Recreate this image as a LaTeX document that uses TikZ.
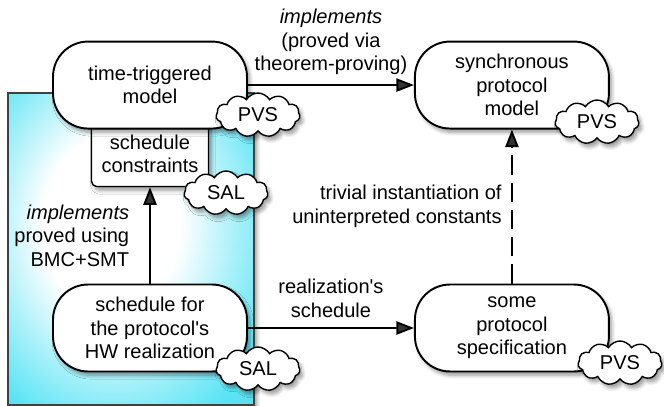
\documentclass[tikz,border=0pt]{standalone}
\usepackage{fontspec}
\setmainfont{Liberation Sans}
\usetikzlibrary{shapes.symbols,shadows.blur,arrows.meta}
\definecolor{glowB}{RGB}{90,228,245}
\definecolor{glowC}{RGB}{105,200,215}
\definecolor{glowD}{RGB}{150,162,168}
\pgfdeclareradialshading{glow}{\pgfpoint{-5bp}{5bp}}{color(0bp)=(white); color(14bp)=(white); color(34bp)=(glowB); color(52bp)=(glowC); color(72bp)=(glowD)}
\begin{document}
\begin{tikzpicture}[x=0.02cm, y=-0.02cm, node distance=7.24cm,
		every node/.style={font=\fontsize{11.4}{13.4}\selectfont},
		sh/.style={blur shadow={shadow xshift=1.6pt, shadow yshift=-2.2pt, shadow blur steps=6}},
		model/.style={draw, sh, fill=white, line width=1.1pt, rounded corners=20pt, align=center, minimum width=3.88cm, minimum height=1.74cm},
		cons/.style={draw, sh, fill=white, line width=0.8pt, rounded corners=3pt, align=center, minimum width=2.34cm, minimum height=1.3cm},
		tool/.style={cloud, cloud puffs=11, cloud puff arc=120, cloud ignores aspect, draw, sh, fill=white, line width=0.8pt, minimum width=1.68cm, minimum height=0.88cm, inner sep=0pt},
		impl/.style={-{Triangle[length=10pt,width=7.5pt]}, line width=1.1pt}]
	\useasboundingbox (0,0) rectangle (664,406);
	\draw[shading=glow, draw=black!75, line width=0.8pt, sh] (8,93) rectangle (254,405);
	\node[model] (hw) at (150,328) {schedule for\\the protocol\textquotesingle s\\HW realization};
	\node[cons, above of=hw, node distance=3.48cm] (sc) {schedule\\constraints};
	\node[model, above of=sc, node distance=1.38cm] (tt) {time-triggered\\model};
	\node[model, right of=tt] (sync) {synchronous\\protocol\\model};
	\node[model, right of=hw] (spec) {some\\protocol\\specification};
	\node[tool] (pvs1) at (258,115) {PVS};
	\node[tool] (sal1) at (226,193) {SAL};
	\node[tool] (sal2) at (258,369) {SAL};
	\node[tool] (pvs2) at (597,122) {PVS};
	\node[tool] (pvs3) at (620,363) {PVS};
	\draw[impl] (tt) -- node[above, align=center, yshift=2pt] {\textit{implements}\\(proved via\\theorem-proving)} (sync);
	\draw[impl] (hw) -- node[left, align=right, xshift=-8pt] {\textit{implements}\\proved using\\BMC+SMT} (sc);
	\draw[impl] (hw) -- node[above, align=center, yshift=2pt] {realization\textquotesingle s\\schedule} (spec);
	\draw[impl, dash pattern=on 11pt off 4.5pt] (spec) -- node[left, align=right, xshift=-2pt] {trivial instantiation of\\uninterpreted constants} (sync);
\end{tikzpicture}
\end{document}
